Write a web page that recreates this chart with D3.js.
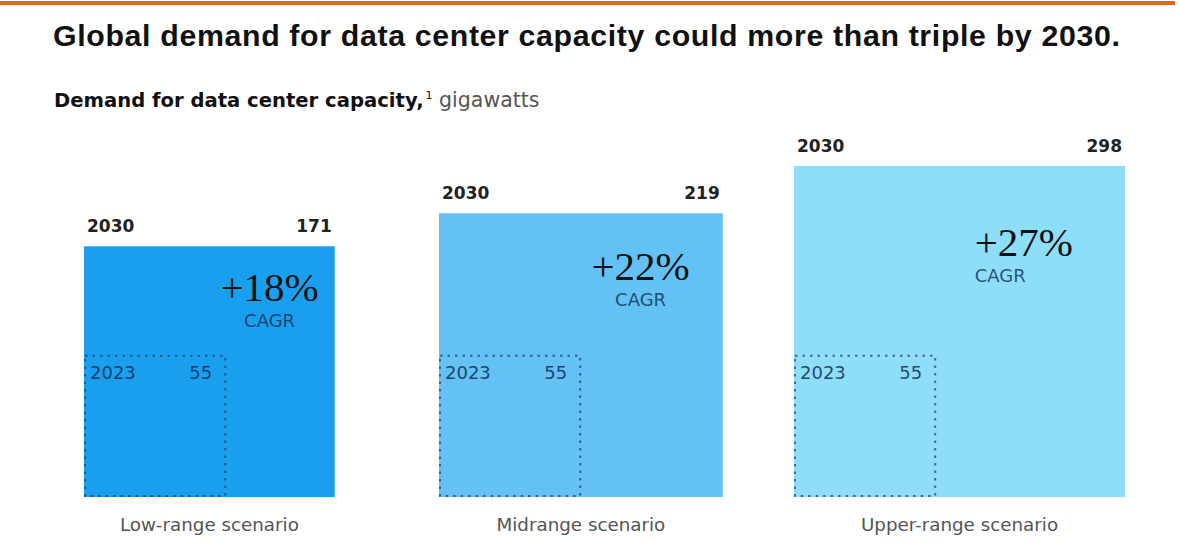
<!DOCTYPE html>
<html>
<head>
<meta charset="utf-8">
<script src="https://cdn.jsdelivr.net/npm/d3@7"></script>
<style>
  html, body { margin: 0; padding: 0; background: #fff; }
  svg { display: block; }
</style>
</head>
<body>
<svg id="chart" width="1179" height="549"></svg>
<script>
// ---- data ----
const scenarios = ["Low-range scenario", "Midrange scenario", "Upper-range scenario"];
const demand2030 = [171, 219, 298];
const demand2023 = [55, 55, 55];
const cagr = ["+18%", "+22%", "+27%"];
const yearNow = "2023";
const yearTarget = "2030";
const colors = ["#1A9FEE", "#63C1F3", "#8EDEFA"];

// ---- layout ----
const svg = d3.select("#chart");
const sans = "'DejaVu Sans', Verdana, sans-serif";
const titleFont = "'Liberation Sans', Arial, Helvetica, sans-serif";
const serif = "'Liberation Serif', 'Times New Roman', serif";

// top orange rule
svg.append("rect").attr("x", 0).attr("y", 1).attr("width", 1175).attr("height", 4).attr("fill", "#E0691F");

svg.append("text")
  .attr("x", 53).attr("y", 46)
  .attr("font-family", titleFont).attr("font-weight", "bold").attr("font-size", 30.3)
  .attr("letter-spacing", 0.65)
  .attr("fill", "#111")
  .text("Global demand for data center capacity could more than triple by 2030.");

const sub = svg.append("text")
  .attr("x", 54).attr("y", 107)
  .attr("font-family", sans).attr("font-size", 19.6).attr("fill", "#111");
sub.append("tspan").attr("font-weight", "bold").text("Demand for data center capacity,");
sub.append("tspan").attr("font-size", 11).attr("dy", -8).attr("dx", 2).text("1");
sub.append("tspan").attr("dy", 8).attr("font-size", 20.5).attr("fill", "#555").text(" gigawatts");

// scales: square side proportional to sqrt(value) (area encodes value)
const side = d3.scaleSqrt().domain([0, d3.max(demand2030)]).range([0, 331]);
const xBand = d3.scaleBand().domain(scenarios).range([84, 84 + 3 * 355]).paddingInner(0);
const baseY = 497;

// annotation placement for CAGR labels (offset from square's top-right corner)
const cagrPos = [
  { dx: -16, dy: 55, anchor: "end", subAnchor: "middle" },
  { dx: -33, dy: 67, anchor: "end", subAnchor: "middle" },
  { dx: -52, dy: 90, anchor: "end", subAnchor: "start" }
];

const g = svg.selectAll("g.sc").data(scenarios).join("g").attr("class", "sc");

g.each(function(name, i) {
  const sel = d3.select(this);
  const x0 = xBand(name);
  const s = side(demand2030[i]);
  const s0 = side(demand2023[i]);
  const top = baseY - s;

  sel.append("rect")
    .attr("x", x0).attr("y", top).attr("width", s).attr("height", s)
    .attr("fill", colors[i]);

  // 2030 header
  sel.append("text").attr("x", x0 + 3).attr("y", top - 14)
    .attr("font-family", sans).attr("font-weight", "bold").attr("font-size", 17).attr("fill", "#222")
    .text(yearTarget);
  sel.append("text").attr("x", x0 + s - 3).attr("y", top - 14)
    .attr("text-anchor", "end")
    .attr("font-family", sans).attr("font-weight", "bold").attr("font-size", 17).attr("fill", "#222")
    .text(demand2030[i]);

  // 2023 dotted square
  sel.append("rect")
    .attr("x", x0 + 1).attr("y", baseY - s0 + 1)
    .attr("width", s0 - 2).attr("height", s0 - 2)
    .attr("fill", "none")
    .attr("stroke", "rgba(25,60,100,0.7)").attr("stroke-width", 2)
    .attr("stroke-dasharray", "2.5,5");
  sel.append("text").attr("x", x0 + 6).attr("y", baseY - s0 + 24)
    .attr("font-family", sans).attr("font-size", 18).attr("fill", "rgba(15,45,85,0.85)")
    .text(yearNow);
  sel.append("text").attr("x", x0 + s0 - 14).attr("y", baseY - s0 + 24)
    .attr("text-anchor", "end")
    .attr("font-family", sans).attr("font-size", 18).attr("fill", "rgba(15,45,85,0.85)")
    .text(demand2023[i]);

  // CAGR
  const p = cagrPos[i];
  const cx = x0 + s + p.dx;
  const cy = top + p.dy;
  const big = sel.append("text").attr("x", cx).attr("y", cy)
    .attr("text-anchor", p.anchor)
    .attr("font-family", serif).attr("font-size", 41).attr("fill", "#111")
    .text(cagr[i]);
  const bb = big.node().getBBox();
  const subX = p.subAnchor === "middle" ? bb.x + bb.width / 2 : bb.x;
  sel.append("text").attr("x", subX).attr("y", cy + 26)
    .attr("text-anchor", p.subAnchor)
    .attr("font-family", sans).attr("font-size", 18).attr("fill", "rgba(15,45,85,0.8)")
    .text("CAGR");

  // scenario label
  sel.append("text").attr("x", x0 + s / 2).attr("y", 531)
    .attr("text-anchor", "middle")
    .attr("font-family", sans).attr("font-size", 18.3).attr("fill", "#555")
    .text(name);
});
</script>
</body>
</html>
